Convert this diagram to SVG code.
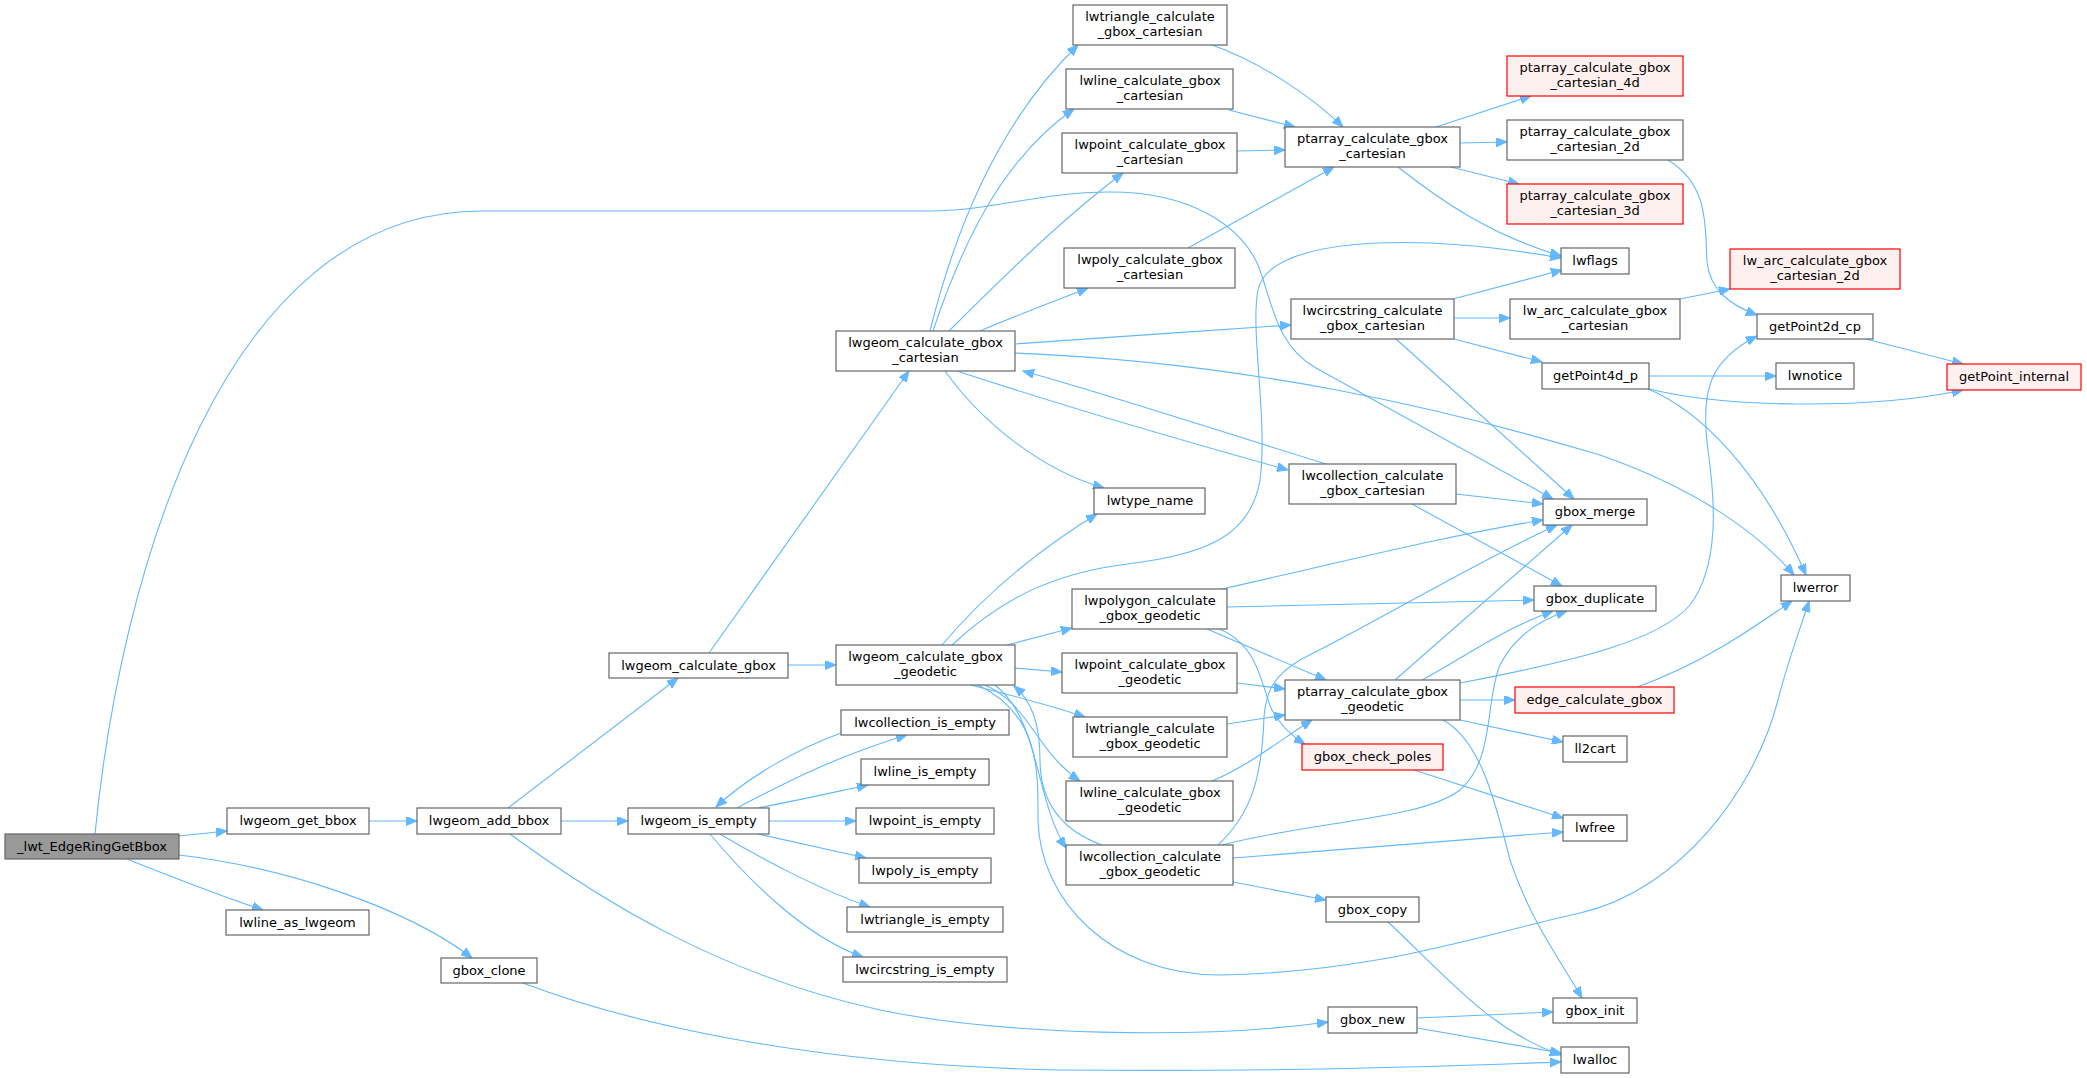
<svg xmlns="http://www.w3.org/2000/svg" width="2087" height="1078" viewBox="0 0 2087 1078">
<defs>
<marker id="a" markerWidth="12" markerHeight="9" refX="11" refY="4.5" orient="auto" markerUnits="userSpaceOnUse"><path d="M0,0 L11,4.5 L0,9 z" fill="#63b8ff" stroke="#63b8ff" stroke-width="1"/></marker>
</defs>
<style>
rect{fill:#fff;stroke:#666;stroke-width:1.2}
.r rect{fill:#fff0f0;stroke:#ff0000}
.root rect{fill:#999}
text{font-family:"DejaVu Sans",sans-serif;font-size:13px;fill:#000;text-anchor:middle}
.e path{fill:none;stroke:#63b8ff;stroke-width:1.1;marker-end:url(#a)}
</style>
<rect x="0" y="0" width="2087" height="1078" style="fill:#fff;stroke:none"/>
<g class="e" id="edges">
<path d="M179,836 L227,831"/>
<path d="M127,859 C170,876 215,894 263,910"/>
<path d="M179,855 C290,868 410,910 472,958"/>
<path d="M95,834 C120,580 220,211 482,211 L930,211 C990,211 1040,192 1110,192 C1190,192 1240,225 1258,265 C1272,300 1275,345 1316,368 L1553,499"/>
<path d="M369,821 L417,821"/>
<path d="M508,808 L678,678"/>
<path d="M561,821 L628,821"/>
<path d="M510,834 C600,900 720,975 880,1010 C1000,1035 1200,1040 1328,1022"/>
<path d="M523,983 C620,1020 800,1065 1060,1070 C1300,1072 1450,1066 1561,1062"/>
<path d="M709,653 L909,371"/>
<path d="M788,665 L836,665"/>
<path d="M737,808 C790,780 840,755 907,735"/>
<path d="M841,733 C800,748 750,775 716,807"/>
<path d="M758,808 C800,800 835,792 868,785"/>
<path d="M769,821 L856,821"/>
<path d="M758,834 L866,858"/>
<path d="M720,834 C760,858 820,890 870,907"/>
<path d="M710,834 C740,870 800,935 863,957"/>
<path d="M930,331 C950,250 990,130 1078,45"/>
<path d="M933,331 C960,250 1000,160 1074,109"/>
<path d="M949,331 C990,290 1060,220 1123,173"/>
<path d="M980,331 C1010,318 1050,303 1088,288"/>
<path d="M1014,344 C1100,338 1200,331 1291,325"/>
<path d="M957,371 C1060,405 1180,440 1288,470"/>
<path d="M1326,464 C1200,425 1100,392 1023,371"/>
<path d="M945,371 C980,420 1040,470 1104,488"/>
<path d="M1014,353 C1250,362 1450,410 1600,455 C1700,490 1760,535 1794,575"/>
<path d="M1453,299 L1562,270"/>
<path d="M1454,318 L1510,318"/>
<path d="M1454,339 L1542,362"/>
<path d="M1396,339 L1574,499"/>
<path d="M1436,127 L1531,96"/>
<path d="M1460,143 L1507,142"/>
<path d="M1451,167 L1519,184"/>
<path d="M1398,167 C1440,200 1490,235 1561,256"/>
<path d="M1212,45 C1260,62 1310,95 1343,127"/>
<path d="M1229,110 L1295,127"/>
<path d="M1237,151 L1285,150"/>
<path d="M1188,248 L1334,167"/>
<path d="M1668,160 C1710,185 1705,230 1707,262 C1710,290 1730,305 1757,315"/>
<path d="M1680,299 L1730,289"/>
<path d="M1866,339 L1963,364"/>
<path d="M1649,376 L1776,376"/>
<path d="M1646,388 C1720,408 1870,410 1963,390"/>
<path d="M1646,388 C1700,410 1760,470 1806,575"/>
<path d="M942,645 C980,600 1030,555 1097,514"/>
<path d="M952,645 C1000,600 1050,575 1120,565 C1200,555 1250,540 1260,480 C1268,420 1250,330 1258,290 C1268,240 1400,230 1561,258"/>
<path d="M1007,645 L1072,628"/>
<path d="M1014,668 L1062,672"/>
<path d="M971,685 C1010,695 1050,705 1085,717"/>
<path d="M985,685 C1030,705 1035,750 1080,781"/>
<path d="M995,685 C1040,720 1035,800 1066,848"/>
<path d="M1102,845 C1060,830 1040,800 1040,760 C1040,720 1030,700 1014,686"/>
<path d="M978,685 C1040,715 1038,770 1038,820 C1040,900 1110,975 1220,975 C1380,972 1480,935 1580,913 C1680,890 1755,790 1778,700 C1788,660 1800,630 1809,601"/>
<path d="M1456,494 L1543,504"/>
<path d="M1412,504 L1562,586"/>
<path d="M1222,589 C1350,560 1450,535 1543,520"/>
<path d="M1227,607 L1534,600"/>
<path d="M1207,629 L1326,680"/>
<path d="M1219,629 C1260,645 1262,690 1272,710 C1280,725 1290,735 1305,744"/>
<path d="M1237,683 L1285,689"/>
<path d="M1227,724 L1285,715"/>
<path d="M1212,781 C1250,765 1280,740 1312,720"/>
<path d="M1395,680 L1572,525"/>
<path d="M1422,680 C1460,660 1500,630 1553,611"/>
<path d="M1460,683 C1580,660 1660,640 1690,605 C1720,565 1715,500 1708,450 C1700,390 1710,360 1757,336"/>
<path d="M1460,700 L1515,700"/>
<path d="M1460,720 L1563,742"/>
<path d="M1443,720 C1480,740 1495,800 1510,860 C1530,920 1560,960 1582,998"/>
<path d="M1637,687 C1700,665 1750,630 1792,601"/>
<path d="M1414,770 L1563,818"/>
<path d="M1233,858 L1563,832"/>
<path d="M1233,882 L1326,900"/>
<path d="M1222,845 C1320,820 1420,820 1460,790 C1495,760 1485,700 1500,665 C1515,635 1540,620 1567,611"/>
<path d="M1218,845 C1250,815 1262,780 1264,717 C1266,690 1275,675 1300,660 C1380,620 1480,560 1557,525"/>
<path d="M1388,922 C1450,980 1490,1030 1561,1055"/>
<path d="M1417,1018 L1553,1012"/>
<path d="M1417,1028 L1561,1053"/>
</g>
<g id="n_root" class="root"><rect x="5" y="834" width="174" height="25"/><text x="92" y="851">_lwt_EdgeRingGetBbox</text></g>
<g id="n_get_bbox"><rect x="227" y="808" width="142" height="26"/><text x="298" y="825">lwgeom_get_bbox</text></g>
<g id="n_line_as"><rect x="226" y="910" width="143" height="25"/><text x="297.5" y="927">lwline_as_lwgeom</text></g>
<g id="n_gbox_clone"><rect x="441" y="958" width="96" height="25"/><text x="489" y="975">gbox_clone</text></g>
<g id="n_add_bbox"><rect x="417" y="808" width="144" height="26"/><text x="489" y="825">lwgeom_add_bbox</text></g>
<g id="n_calc_gbox"><rect x="609" y="653" width="179" height="25"/><text x="698.5" y="670">lwgeom_calculate_gbox</text></g>
<g id="n_is_empty"><rect x="628" y="808" width="141" height="26"/><text x="698.5" y="825">lwgeom_is_empty</text></g>
<g id="n_cart"><rect x="836" y="331" width="179" height="40"/><text x="925.5" y="346.5">lwgeom_calculate_gbox</text><text x="925.5" y="361.5">_cartesian</text></g>
<g id="n_geod"><rect x="836" y="645" width="179" height="40"/><text x="925.5" y="660.5">lwgeom_calculate_gbox</text><text x="925.5" y="675.5">_geodetic</text></g>
<g id="n_coll_empty"><rect x="841" y="710" width="168" height="25"/><text x="925" y="727">lwcollection_is_empty</text></g>
<g id="n_line_empty"><rect x="861" y="759" width="128" height="26"/><text x="925" y="776">lwline_is_empty</text></g>
<g id="n_point_empty"><rect x="856" y="808" width="138" height="26"/><text x="925" y="825">lwpoint_is_empty</text></g>
<g id="n_poly_empty"><rect x="859" y="858" width="132" height="25"/><text x="925" y="875">lwpoly_is_empty</text></g>
<g id="n_tri_empty"><rect x="847" y="907" width="156" height="25"/><text x="925" y="924">lwtriangle_is_empty</text></g>
<g id="n_circ_empty"><rect x="843" y="957" width="164" height="25"/><text x="925" y="974">lwcircstring_is_empty</text></g>
<g id="n_lwtri_cart"><rect x="1073" y="5" width="154" height="40"/><text x="1150" y="20.5">lwtriangle_calculate</text><text x="1150" y="35.5">_gbox_cartesian</text></g>
<g id="n_lwline_cart"><rect x="1066" y="69" width="167" height="40"/><text x="1150" y="84.5">lwline_calculate_gbox</text><text x="1150" y="99.5">_cartesian</text></g>
<g id="n_lwpoint_cart"><rect x="1062" y="133" width="175" height="40"/><text x="1150" y="148.5">lwpoint_calculate_gbox</text><text x="1150" y="163.5">_cartesian</text></g>
<g id="n_lwpoly_cart"><rect x="1064" y="248" width="171" height="40"/><text x="1150" y="263.5">lwpoly_calculate_gbox</text><text x="1150" y="278.5">_cartesian</text></g>
<g id="n_lwtype_name"><rect x="1094" y="488" width="111" height="26"/><text x="1150" y="505">lwtype_name</text></g>
<g id="n_lwpolygon_geod"><rect x="1072" y="589" width="155" height="40"/><text x="1150" y="604.5">lwpolygon_calculate</text><text x="1150" y="619.5">_gbox_geodetic</text></g>
<g id="n_lwpoint_geod"><rect x="1062" y="653" width="175" height="40"/><text x="1150" y="668.5">lwpoint_calculate_gbox</text><text x="1150" y="683.5">_geodetic</text></g>
<g id="n_lwtri_geod"><rect x="1073" y="717" width="154" height="40"/><text x="1150" y="732.5">lwtriangle_calculate</text><text x="1150" y="747.5">_gbox_geodetic</text></g>
<g id="n_lwline_geod"><rect x="1066" y="781" width="167" height="40"/><text x="1150" y="796.5">lwline_calculate_gbox</text><text x="1150" y="811.5">_geodetic</text></g>
<g id="n_lwcoll_geod"><rect x="1066" y="845" width="167" height="40"/><text x="1150" y="860.5">lwcollection_calculate</text><text x="1150" y="875.5">_gbox_geodetic</text></g>
<g id="n_ptarray_cart"><rect x="1285" y="127" width="175" height="40"/><text x="1372.5" y="142.5">ptarray_calculate_gbox</text><text x="1372.5" y="157.5">_cartesian</text></g>
<g id="n_lwcirc_cart"><rect x="1291" y="299" width="163" height="40"/><text x="1372.5" y="314.5">lwcircstring_calculate</text><text x="1372.5" y="329.5">_gbox_cartesian</text></g>
<g id="n_lwcoll_cart"><rect x="1289" y="464" width="167" height="40"/><text x="1372.5" y="479.5">lwcollection_calculate</text><text x="1372.5" y="494.5">_gbox_cartesian</text></g>
<g id="n_ptarray_geod"><rect x="1285" y="680" width="175" height="40"/><text x="1372.5" y="695.5">ptarray_calculate_gbox</text><text x="1372.5" y="710.5">_geodetic</text></g>
<g id="n_check_poles" class="r"><rect x="1302" y="744" width="141" height="26"/><text x="1372.5" y="761">gbox_check_poles</text></g>
<g id="n_gbox_copy"><rect x="1326" y="897" width="93" height="25"/><text x="1372.5" y="914">gbox_copy</text></g>
<g id="n_gbox_new"><rect x="1328" y="1007" width="89" height="26"/><text x="1372.5" y="1024">gbox_new</text></g>
<g id="n_pt4d" class="r"><rect x="1507" y="56" width="176" height="40"/><text x="1595" y="71.5">ptarray_calculate_gbox</text><text x="1595" y="86.5">_cartesian_4d</text></g>
<g id="n_pt2d"><rect x="1507" y="120" width="176" height="40"/><text x="1595" y="135.5">ptarray_calculate_gbox</text><text x="1595" y="150.5">_cartesian_2d</text></g>
<g id="n_pt3d" class="r"><rect x="1507" y="184" width="176" height="40"/><text x="1595" y="199.5">ptarray_calculate_gbox</text><text x="1595" y="214.5">_cartesian_3d</text></g>
<g id="n_lwflags"><rect x="1561" y="248" width="68" height="26"/><text x="1595" y="265">lwflags</text></g>
<g id="n_lw_arc"><rect x="1510" y="299" width="170" height="40"/><text x="1595" y="314.5">lw_arc_calculate_gbox</text><text x="1595" y="329.5">_cartesian</text></g>
<g id="n_getPoint4d"><rect x="1542" y="363" width="107" height="26"/><text x="1595.5" y="380">getPoint4d_p</text></g>
<g id="n_gbox_merge"><rect x="1543" y="499" width="104" height="26"/><text x="1595" y="516">gbox_merge</text></g>
<g id="n_gbox_duplicate"><rect x="1534" y="586" width="122" height="25"/><text x="1595" y="603">gbox_duplicate</text></g>
<g id="n_edge_calc" class="r"><rect x="1515" y="687" width="159" height="26"/><text x="1594.5" y="704">edge_calculate_gbox</text></g>
<g id="n_ll2cart"><rect x="1563" y="736" width="64" height="26"/><text x="1595" y="753">ll2cart</text></g>
<g id="n_lwfree"><rect x="1563" y="815" width="64" height="26"/><text x="1595" y="832">lwfree</text></g>
<g id="n_gbox_init"><rect x="1553" y="998" width="84" height="25"/><text x="1595" y="1015">gbox_init</text></g>
<g id="n_lwalloc"><rect x="1561" y="1047" width="68" height="26"/><text x="1595" y="1064">lwalloc</text></g>
<g id="n_lw_arc_2d" class="r"><rect x="1730" y="249" width="170" height="40"/><text x="1815" y="264.5">lw_arc_calculate_gbox</text><text x="1815" y="279.5">_cartesian_2d</text></g>
<g id="n_getPoint2d"><rect x="1757" y="314" width="116" height="25"/><text x="1815" y="331">getPoint2d_cp</text></g>
<g id="n_lwnotice"><rect x="1776" y="363" width="78" height="26"/><text x="1815" y="380">lwnotice</text></g>
<g id="n_lwerror"><rect x="1781" y="575" width="69" height="26"/><text x="1815.5" y="592">lwerror</text></g>
<g id="n_getPoint_internal" class="r"><rect x="1947" y="364" width="134" height="26"/><text x="2014" y="381">getPoint_internal</text></g>
</svg>
